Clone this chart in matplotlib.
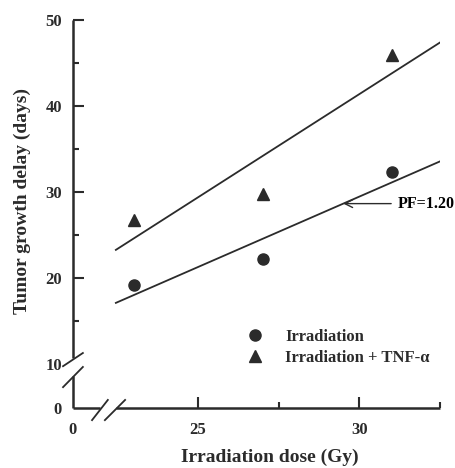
import numpy as np
import matplotlib
matplotlib.use("Agg")
from matplotlib import pyplot as plt
from matplotlib.ticker import FixedLocator

plt.rcParams['font.family'] = ['Liberation Serif', 'DejaVu Serif']
plt.rcParams['font.weight'] = 'bold'
plt.rcParams['axes.labelweight'] = 'bold'

# data
dose = [23, 27, 31]
irr = [19.2, 22.2, 32.3]
irr_tnf = [26.8, 29.8, 46.0]
fit_range = [22.45, 32.5]
x_major = [0, 25, 30]
x_minor = [27.5, 32.5]
y_major = [0, 10, 20, 30, 40, 50]
y_minor = [15, 25, 35, 45]
pf_label = "PF=1.20"
pf_dose = 29.5

ink = '#2b2b2b'


# piecewise scales to squeeze the broken part of each axis
def make_break(c, b):
    def fwd(v):
        v = np.asarray(v, dtype=float)
        return np.where(v < b, c + v * (b - c) / b, v)

    def inv(t):
        t = np.asarray(t, dtype=float)
        return np.where(t < b, (t - c) * b / (b - c), t)
    return fwd, inv


fig = plt.figure(figsize=(4.56, 4.68), dpi=100)
ax = fig.add_axes([0.160, 0.128, 0.805, 0.829])
ax.set_xscale('function', functions=make_break(21.12, 21.5))
ax.set_yscale('function', functions=make_break(4.88, 10.0))
ax.set_xlim(0, 32.5)
ax.set_ylim(0, 50)

for s in ax.spines.values():
    s.set_visible(False)

# markers
ax.plot(dose, irr, 'o', color=ink, ms=8, label='Irradiation', clip_on=False)
ax.plot(dose, irr_tnf, '^', color=ink, ms=8,
        label='Irradiation + TNF-\u03b1', clip_on=False)

# regression lines
fx = np.array(fit_range)
p1 = np.polyfit(dose, irr, 1)
p2 = np.polyfit(dose, irr_tnf, 1)
ax.plot(fx, np.polyval(p1, fx), color=ink, lw=1.3)
ax.plot(fx, np.polyval(p2, fx), color=ink, lw=1.3)

ax.annotate(pf_label, xy=(pf_dose, np.polyval(p1, pf_dose)),
            xytext=(31.2, np.polyval(p1, pf_dose)), va='center', ha='left',
            fontsize=11.5,
            arrowprops=dict(arrowstyle='->', color=ink, lw=1.0,
                            shrinkA=3, shrinkB=0, mutation_scale=14))

# axis lines with gaps, and break marks (axes fractions)
kw = dict(transform=ax.transAxes, color=ink, lw=1.8, clip_on=False,
          solid_capstyle='butt')
ax.plot([0, 0], [0, 0.082], **kw)
ax.plot([0, 0], [0.128, 1], **kw)
ax.plot([0, 0.073], [0, 0], **kw)
ax.plot([0.118, 1], [0, 0], **kw)
kb = dict(transform=ax.transAxes, color=ink, lw=1.3, clip_on=False)
ax.plot([-0.027, 0.027], [0.108, 0.142], **kb)
ax.plot([-0.027, 0.027], [0.054, 0.106], **kb)
ax.plot([0.052, 0.095], [-0.031, 0.021], **kb)
ax.plot([0.087, 0.142], [-0.031, 0.021], **kb)

ax.xaxis.set_major_locator(FixedLocator(x_major))
ax.xaxis.set_minor_locator(FixedLocator(x_minor))
ax.yaxis.set_major_locator(FixedLocator(y_major))
ax.yaxis.set_minor_locator(FixedLocator(y_minor))
ax.set_xticklabels([str(v) for v in x_major])
ax.set_yticklabels([str(v) for v in y_major])
ax.tick_params(which='both', direction='in', color=ink, width=1.5,
               top=False, right=False, labelsize=12, labelcolor=ink)
ax.tick_params(which='major', length=8)
ax.tick_params(which='minor', length=4)
ax.tick_params(axis='y', pad=8)
ax.tick_params(axis='x', pad=10)
ax.xaxis.get_major_ticks()[0].tick1line.set_visible(False)
ax.yaxis.get_major_ticks()[0].tick1line.set_visible(False)
ax.yaxis.get_major_ticks()[1].tick1line.set_visible(False)

ax.set_xlabel('Irradiation dose (Gy)', fontsize=14, color=ink)
ax.set_ylabel('Tumor growth delay (days)', fontsize=14, color=ink)
ax.xaxis.set_label_coords(0.537, -0.105)
ax.yaxis.set_label_coords(-0.115, 0.535)

ax.legend(loc='upper left', bbox_to_anchor=(0.474, 0.205), frameon=False,
          fontsize=12, handlelength=1.0, handletextpad=1.3, borderpad=0,
          borderaxespad=0, labelspacing=0.3, numpoints=1,
          labelcolor=ink)

fig.savefig('out.png', dpi=100)
